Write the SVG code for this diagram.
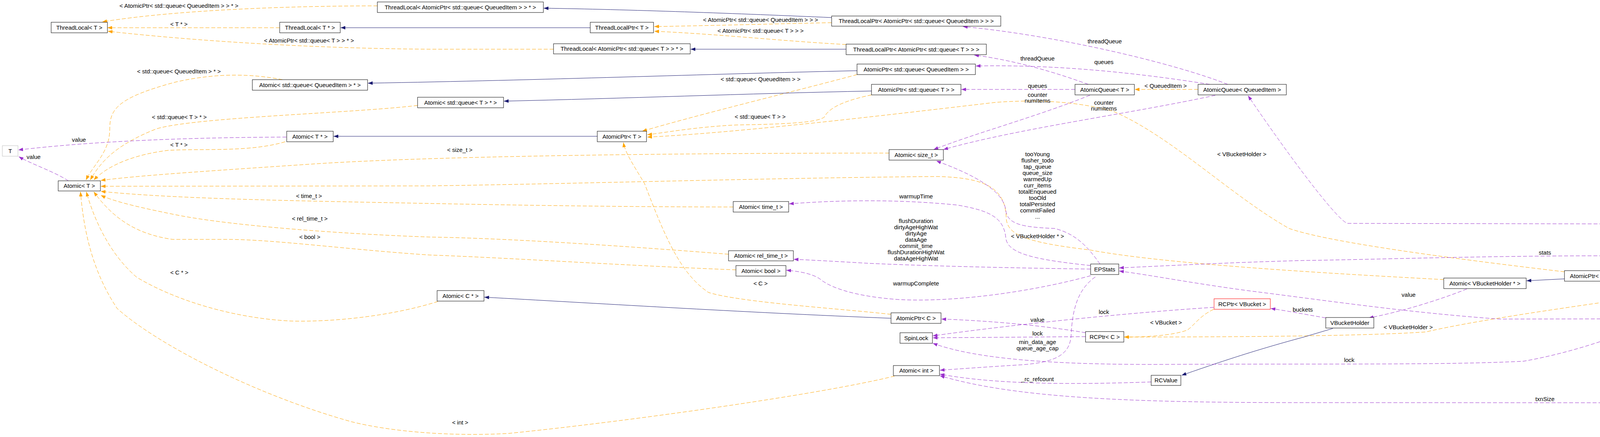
<svg xmlns="http://www.w3.org/2000/svg" width="6416" height="1119" viewBox="0 0 6416 1119">
<style>
text{font-family:"Liberation Sans",Arial,sans-serif;font-size:15px;text-anchor:middle;fill:#000}
.n rect{fill:#fff;stroke:#000;stroke-width:1}
.o{fill:none;stroke:#FFA500;stroke-width:1;stroke-dasharray:10,5;marker-end:url(#ao)}
.p{fill:none;stroke:#9A32CD;stroke-width:1;stroke-dasharray:10,5;marker-end:url(#ap)}
.b{fill:none;stroke:#191970;stroke-width:1;marker-end:url(#ab)}
</style>
<defs>
<marker id="ao" viewBox="0 0 12 9" refX="12" refY="4.5" markerWidth="12" markerHeight="9" markerUnits="userSpaceOnUse" orient="auto"><path d="M0,0L12,4.5L0,9z" fill="#FFA500"/></marker>
<marker id="ap" viewBox="0 0 12 9" refX="12" refY="4.5" markerWidth="12" markerHeight="9" markerUnits="userSpaceOnUse" orient="auto"><path d="M0,0L12,4.5L0,9z" fill="#9A32CD"/></marker>
<marker id="ab" viewBox="0 0 12 9" refX="12" refY="4.5" markerWidth="12" markerHeight="9" markerUnits="userSpaceOnUse" orient="auto"><path d="M0,0L12,4.5L0,9z" fill="#191970"/></marker>
</defs>
<rect width="6416" height="1119" fill="#fff"/>
<g id="connectors">
<path class="o" d="M966,15 C750,15 450,25 262,56"/><text x="458" y="20">&lt; AtomicPtr&lt; std::queue&lt; QueuedItem &gt; &gt; * &gt;</text>
<path class="o" d="M716,71 L275,71"/><text x="458" y="67">&lt; T * &gt;</text>
<path class="o" d="M1417,126 L1100,126 C800,124 500,105 276,80"/><text x="791" y="109">&lt; AtomicPtr&lt; std::queue&lt; T &gt; &gt; * &gt;</text>
<path class="o" d="M2129,58 C1950,62 1800,66 1675,68"/><text x="1947" y="56">&lt; AtomicPtr&lt; std::queue&lt; QueuedItem &gt; &gt; &gt;</text>
<path class="o" d="M2166,114 C2000,105 1850,88 1675,80"/><text x="1947" y="84">&lt; AtomicPtr&lt; std::queue&lt; T &gt; &gt; &gt;</text>
<path class="o" d="M723,204 C650,190 560,185 450,210 C300,250 281,280 281,330 C281,390 240,420 220,461"/><text x="458" y="188">&lt; std::queue&lt; QueuedItem &gt; * &gt;</text>
<path class="o" d="M1069,270 C900,290 500,300 400,330 C300,370 260,410 231,461"/><text x="459" y="305">&lt; std::queue&lt; T &gt; * &gt;</text>
<path class="o" d="M730,363 C640,390 520,380 430,385 C350,395 280,420 240,461"/><text x="458" y="376">&lt; T * &gt;</text>
<path class="o" d="M2276,392 C1700,392 1100,400 800,420 C500,440 350,450 258,462"/><text x="1177" y="389">&lt; size_t &gt;</text>
<path class="o" d="M3696,716 C3500,705 3000,680 2790,640 C2620,620 2580,600 2576,560 C2575,480 2520,455 2400,452 C2000,455 1500,470 1100,476 L258,477"/><text x="2656" y="610">&lt; VBucketHolder * &gt;</text>
<path class="o" d="M1877,530 C1600,530 1300,525 1100,521 C800,515 450,510 258,490"/><text x="791" y="507">&lt; time_t &gt;</text>
<path class="o" d="M1865,651 C1600,630 1300,610 1100,607 C900,600 600,580 450,550 C350,530 290,515 258,500"/><text x="793" y="565">&lt; rel_time_t &gt;</text>
<path class="o" d="M1884,691 C1600,680 1300,660 1100,653 C900,640 700,613 582,613 L442,613 C350,600 290,560 240,491"/><text x="793" y="612">&lt; bool &gt;</text>
<path class="o" d="M1121,772 C1000,810 850,825 744,822 C600,815 450,770 350,710 C280,650 240,560 221,491"/><text x="459" y="703">&lt; C * &gt;</text>
<path class="o" d="M2290,963 C2100,1010 1600,1080 1300,1110 C1150,1118 1000,1105 900,1080 C650,1010 400,880 300,790 C240,700 215,600 206,491"/><text x="1178" y="1087">&lt; int &gt;</text>
<path class="o" d="M2194,191 C2050,230 1800,290 1644,336"/><text x="1947" y="208">&lt; std::queue&lt; QueuedItem &gt; &gt;</text>
<path class="o" d="M2231,243 C2150,260 2120,280 2110,300 C2090,315 2000,318 1885,320 C1780,325 1700,340 1657,345"/><text x="1946" y="304">&lt; std::queue&lt; T &gt; &gt;</text>
<path class="o" d="M4005,696 C3700,660 3400,620 3300,585 C3150,500 3000,350 2850,285 C2750,258 2650,255 2550,262 C2350,285 1900,340 1657,351"/><text x="3179" y="400">&lt; VBucketHolder &gt;</text>
<path class="o" d="M2281,805 C2150,790 1900,775 1814,749 C1740,700 1700,600 1650,470 C1620,420 1600,390 1596,365"/><text x="1947" y="731">&lt; C &gt;</text>
<path class="o" d="M3067,229 L2905,229"/><text x="2984" y="225">&lt; QueuedItem &gt;</text>
<path class="o" d="M3107,792 C3070,810 3060,830 3040,845 C3000,860 2930,863 2878,863"/><text x="2985" y="831">&lt; VBucket &gt;</text>
<path class="o" d="M4330,742 C4100,775 3800,815 3650,850 C3500,860 3200,863 2878,863"/><text x="3605" y="843">&lt; VBucketHolder &gt;</text>
<path class="o" d="M4648,868 L4479,868"/><text x="4578" y="863">&lt; GetValue &gt;</text>

<path class="b" d="M2129,45 C1900,35 1600,24 1392,21"/>
<path class="b" d="M1511,71 L872,71"/>
<path class="b" d="M2166,126 L1768,126"/>
<path class="b" d="M2194,181 C1800,190 1400,205 942,213"/>
<path class="b" d="M2231,233 C1900,240 1600,252 1290,259"/>
<path class="b" d="M1529,349 L854,349"/>
<path class="b" d="M2281,815 C1900,800 1500,775 1240,761"/>
<path class="b" d="M4005,714 L3908,719"/>
<path class="b" d="M3412,841 L3338,863 C3200,900 3100,935 3025,961"/>
<path class="b" d="M4685,432 L4447,370"/>
<path class="b" d="M4989,694 C4900,720 4850,760 4810,800 C4780,830 4760,845 4750,854"/>
<path class="b" d="M6307,898 C6200,930 6100,981 6050,981 L5014,981 C4950,981 4880,960 4830,925 C4800,905 4780,893 4766,883"/>

<path class="p" d="M733,351 C500,352 250,360 47,384"/><text x="202" y="363">value</text>
<path class="p" d="M175,463 C140,440 80,420 48,401"/><text x="86" y="407">value</text>
<path class="p" d="M3143,216 C3000,160 2700,90 2465,68"/><text x="2828" y="111">threadQueue</text>
<path class="p" d="M2786,216 C2700,185 2600,155 2494,141"/><text x="2656" y="155">threadQueue</text>
<path class="p" d="M3097,216 C2900,185 2700,165 2498,169"/><text x="2826" y="164">queues</text>
<path class="p" d="M2752,229 L2461,229"/><text x="2656" y="225">queues</text>
<path class="p" d="M2790,244 C2650,300 2500,340 2390,383"/><text x="2656" y="248">counter</text><text x="2656" y="263">numItems</text>
<path class="p" d="M3111,244 C2900,290 2600,330 2415,383"/><text x="2826" y="268">counter</text><text x="2826" y="283">numItems</text>
<path class="p" d="M2816,676 C2790,640 2760,600 2700,585 C2620,582 2580,575 2575,540 C2570,490 2500,450 2397,412"/>
<text x="2656" y="400">tooYoung</text><text x="2656" y="416">flusher_todo</text><text x="2656" y="432">tap_queue</text><text x="2656" y="448">queue_size</text><text x="2656" y="464">warmedUp</text><text x="2656" y="480">curr_items</text><text x="2656" y="496">totalEnqueued</text><text x="2656" y="512">tooOld</text><text x="2656" y="528">totalPersisted</text><text x="2656" y="544">commitFailed</text><text x="2656" y="560">...</text>
<path class="p" d="M2792,680 C2650,665 2580,650 2575,610 C2570,560 2540,540 2450,525 C2300,510 2150,512 2020,522"/><text x="2345" y="508">warmupTime</text>
<path class="p" d="M2792,689 C2500,685 2300,678 2219,674 C2150,670 2080,666 2032,664"/>
<text x="2345" y="571">flushDuration</text><text x="2345" y="587">dirtyAgeHighWat</text><text x="2345" y="603">dirtyAge</text><text x="2345" y="619">dataAge</text><text x="2345" y="635">commit_time</text><text x="2345" y="651">flushDurationHighWat</text><text x="2345" y="667">dataAgeHighWat</text>
<path class="p" d="M2792,706 C2650,745 2450,775 2300,767 C2200,760 2130,740 2100,715 C2080,700 2040,694 2013,692"/><text x="2345" y="731">warmupComplete</text>
<path class="p" d="M2804,709 C2760,740 2745,790 2742,860 C2738,910 2700,930 2600,935 C2520,940 2450,945 2406,948"/><text x="2656" y="881">min_data_age</text><text x="2656" y="897">queue_age_cap</text>
<path class="p" d="M2779,852 C2650,830 2500,820 2410,817"/><text x="2656" y="824">value</text>
<path class="p" d="M3107,787 C2900,800 2600,830 2388,860"/><text x="2826" y="804">lock</text>
<path class="p" d="M2779,862 L2388,865"/><text x="2656" y="859">lock</text>
<path class="p" d="M4398,742 C4300,800 4100,890 3900,925 C3700,935 3400,931 3000,933 C2700,935 2500,920 2388,879"/><text x="3454" y="927">lock</text>
<path class="p" d="M2947,978 C2750,985 2550,985 2406,958"/><text x="2656" y="976">_rc_refcount</text>
<path class="p" d="M5470,646 C5440,800 5300,950 5100,1015 C4900,1035 4500,1031 3338,1031 C2900,1031 2600,1020 2406,962"/><text x="3955" y="1027">txnSize</text>
<path class="p" d="M3394,814 C3340,805 3290,795 3253,790"/><text x="3335" y="798">buckets</text>
<path class="p" d="M3755,740 C3680,770 3580,800 3504,814"/><text x="3606" y="760">value</text>
<path class="p" d="M4321,721 L4225,714"/><text x="4271" y="713">value</text>
<path class="p" d="M5378,622 C5100,600 4800,574 4457,574 L3449,572 C3420,560 3300,400 3195,245"/><text x="4271" y="569">towrite</text>
<path class="p" d="M4944,673 C4700,665 4400,658 4100,655 C3800,655 3500,665 3338,667 C3150,672 3000,680 2865,686"/><text x="3955" y="652">stats</text>
<path class="p" d="M5456,646 C5420,720 5300,790 5100,815 L3838,817 C3600,800 3400,770 3200,745 C3050,725 2950,705 2865,694"/><text x="4114" y="815">stats</text>
<path class="p" d="M4680,712 L4510,722"/><text x="4578" y="711">buckets</text>
<path class="p" d="M4695,696 C4600,640 4520,570 4490,520 C4460,470 4440,420 4423,374"/><text x="4578" y="571">mutex</text>
<path class="p" d="M6323,502 C6250,380 6150,260 6000,240 C5900,237 5000,237 4720,238 C4600,245 4500,290 4440,346"/><text x="5474" y="233">mutex</text>
<path class="p" d="M6000,571 C5950,480 5870,330 5750,300 L4720,300 C4600,303 4500,325 4447,350"/><text x="5263" y="279">tapMutex</text><text x="5263" y="295">lookupMutex</text>
<path class="p" d="M5700,475 C5650,460 5600,455 5500,445 C5200,420 4800,380 4447,363"/><text x="5046" y="395">taskMutex</text>
<path class="p" d="M6005,572 C5900,500 5750,430 5576,412 C5400,400 5250,395 5100,398 C4950,405 4850,425 4783,433"/><text x="5475" y="391">tapNotifySync</text>
<path class="p" d="M4999,462 L4783,448"/><text x="4879" y="448">mutex</text>
<path class="p" d="M5442,614 C5400,580 5320,540 5150,528 C5000,522 4880,500 4778,458"/><text x="5045" y="501">mutex</text>
<path class="p" d="M5700,484 C5500,478 5300,470 5094,465"/><text x="5475" y="471">dispatcher</text>
<path class="p" d="M5463,615 C5420,570 5370,520 5300,510 C5200,505 5150,500 5094,478"/><text x="5263" y="495">dispatcher</text>
<path class="p" d="M5378,615 C5100,585 4800,530 4600,460 C4520,430 4480,400 4445,374"/><text x="4882" y="517">vbsetMutex</text>
<path class="p" d="M5435,643 C5350,665 5250,678 5150,680"/><text x="5263" y="660">loadStorageKVPairCallback</text>
<path class="p" d="M4944,689 L4788,704"/><text x="4880" y="689">vbuckets</text>
<path class="p" d="M5449,646 C5350,690 5200,725 5000,728 C4900,729 4850,722 4788,717"/><text x="5046" y="721">vbuckets</text>
<path class="p" d="M4675,942 L4491,944"/><text x="4578" y="907">set_vb_stmt</text><text x="4578" y="923">del_vb_stmt</text><text x="4578" y="938">sel_vb_stmt</text>
<path class="p" d="M4983,933 L4793,938"/><text x="4880" y="931">strategy</text>
<path class="p" d="M5467,646 C5450,740 5400,830 5300,868 C5200,878 5120,890 5083,917"/><text x="5262" y="848">underlying</text>
<path class="p" d="M6015,602 C5850,680 5650,780 5500,840 C5350,890 5200,915 5112,926"/><text x="5625" y="776">sqliteDb</text>
<path class="p" d="M5497,614 C5560,550 5620,510 5700,495"/><text x="5626" y="505">flusher</text>
<path class="p" d="M5722,500 C5680,540 5600,590 5517,616"/><text x="5626" y="548">store</text>
<path class="p" d="M5680,598 C5640,603 5600,608 5563,616"/><text x="5626" y="597">backend</text>
<path class="p" d="M5975,602 C5850,620 5700,633 5574,633"/><text x="5737" y="624">epstore</text>
<path class="p" d="M5938,587 L5796,587"/><text x="5864" y="583">getlExtension</text>
<path class="p" d="M6251,511 C6200,507 6150,502 6101,500"/><text x="6195" y="500">message</text>
<path class="p" d="M6270,532 C6220,545 6150,560 6096,573"/><text x="6195" y="540">engine</text>
<path class="p" d="M6142,596 C6200,597 6260,580 6310,532"/><text x="6195" y="581">clientTap</text>
<path class="p" d="M6318,869 C6250,800 6150,690 6053,601"/><text x="6195" y="713">engine</text>
</g>
<g id="n1" class="n"><rect x="131" y="57" width="144" height="27"/><text x="203" y="76">ThreadLocal&lt; T &gt;</text></g>
<g id="n2" class="n"><rect x="716" y="57" width="155" height="27"/><text x="793.5" y="76">ThreadLocal&lt; T * &gt;</text></g>
<g id="n3" class="n"><rect x="966" y="5" width="425" height="27"/><text x="1178.5" y="24">ThreadLocal&lt; AtomicPtr&lt; std::queue&lt; QueuedItem &gt; &gt; * &gt;</text></g>
<g id="n4" class="n"><rect x="1511" y="57" width="162" height="27"/><text x="1592" y="76">ThreadLocalPtr&lt; T &gt;</text></g>
<g id="n5" class="n"><rect x="1417" y="112" width="350" height="26"/><text x="1592" y="130">ThreadLocal&lt; AtomicPtr&lt; std::queue&lt; T &gt; &gt; * &gt;</text></g>
<g id="n6" class="n"><rect x="2129" y="41" width="433" height="26"/><text x="2345.5" y="59">ThreadLocalPtr&lt; AtomicPtr&lt; std::queue&lt; QueuedItem &gt; &gt; &gt;</text></g>
<g id="n7" class="n"><rect x="2166" y="113" width="359" height="27"/><text x="2345.5" y="132">ThreadLocalPtr&lt; AtomicPtr&lt; std::queue&lt; T &gt; &gt; &gt;</text></g>
<g id="n8" class="n"><rect x="646" y="204" width="295" height="27"/><text x="793.5" y="223">Atomic&lt; std::queue&lt; QueuedItem &gt; * &gt;</text></g>
<g id="n9" class="n"><rect x="2194" y="164" width="303" height="27"/><text x="2345.5" y="183">AtomicPtr&lt; std::queue&lt; QueuedItem &gt; &gt;</text></g>
<g id="n10" class="n"><rect x="1069" y="249" width="220" height="27"/><text x="1179" y="268">Atomic&lt; std::queue&lt; T &gt; * &gt;</text></g>
<g id="n11" class="n"><rect x="2231" y="216" width="229" height="27"/><text x="2345.5" y="235">AtomicPtr&lt; std::queue&lt; T &gt; &gt;</text></g>
<g id="n12" class="n"><rect x="6" y="373" width="40" height="27" style="stroke:#bfbfbf"/><text x="26" y="392">T</text></g>
<g id="n13" class="n"><rect x="734" y="336" width="119" height="27"/><text x="793.5" y="355">Atomic&lt; T * &gt;</text></g>
<g id="n14" class="n"><rect x="1529" y="336" width="126" height="27"/><text x="1592" y="355">AtomicPtr&lt; T &gt;</text></g>
<g id="n15" class="n"><rect x="149" y="463" width="108" height="26"/><text x="203" y="481">Atomic&lt; T &gt;</text></g>
<g id="n16" class="n"><rect x="2276" y="383" width="139" height="27"/><text x="2345.5" y="402">Atomic&lt; size_t &gt;</text></g>
<g id="n17" class="n"><rect x="1877" y="516" width="142" height="27"/><text x="1948" y="535">Atomic&lt; time_t &gt;</text></g>
<g id="n18" class="n"><rect x="1865" y="642" width="166" height="26"/><text x="1948" y="660">Atomic&lt; rel_time_t &gt;</text></g>
<g id="n19" class="n"><rect x="1884" y="680" width="128" height="27"/><text x="1948" y="699">Atomic&lt; bool &gt;</text></g>
<g id="n20" class="n"><rect x="1119" y="744" width="120" height="27"/><text x="1179" y="763">Atomic&lt; C * &gt;</text></g>
<g id="n21" class="n"><rect x="2752" y="216" width="152" height="27"/><text x="2828" y="235">AtomicQueue&lt; T &gt;</text></g>
<g id="n22" class="n"><rect x="3067" y="216" width="226" height="27"/><text x="3180" y="235">AtomicQueue&lt; QueuedItem &gt;</text></g>
<g id="n23" class="n"><rect x="2792" y="676" width="72" height="27"/><text x="2828" y="695">EPStats</text></g>
<g id="n24" class="n"><rect x="3108" y="765" width="144" height="27" style="stroke:#ff0000"/><text x="3180" y="784">RCPtr&lt; VBucket &gt;</text></g>
<g id="n25" class="n"><rect x="2779" y="849" width="98" height="27"/><text x="2828" y="868">RCPtr&lt; C &gt;</text></g>
<g id="n26" class="n"><rect x="2281" y="801" width="128" height="27"/><text x="2345" y="820">AtomicPtr&lt; C &gt;</text></g>
<g id="n27" class="n"><rect x="2304" y="852" width="83" height="27"/><text x="2345.5" y="871">SpinLock</text></g>
<g id="n28" class="n"><rect x="2287" y="936" width="118" height="26"/><text x="2346" y="954">Atomic&lt; int &gt;</text></g>
<g id="n29" class="n"><rect x="2947" y="961" width="76" height="26"/><text x="2985" y="979">RCValue</text></g>
<g id="n30" class="n"><rect x="3696" y="712" width="211" height="27"/><text x="3801.5" y="731">Atomic&lt; VBucketHolder * &gt;</text></g>
<g id="n31" class="n"><rect x="4005" y="693" width="219" height="27"/><text x="4114.5" y="712">AtomicPtr&lt; VBucketHolder &gt;</text></g>
<g id="n32" class="n"><rect x="4321" y="715" width="188" height="27"/><text x="4415" y="734">RCPtr&lt; VBucketHolder &gt;</text></g>
<g id="n33" class="n"><rect x="3394" y="813" width="123" height="27"/><text x="3455.5" y="832">VBucketHolder</text></g>
<g id="n34" class="n"><rect x="4351" y="855" width="127" height="26"/><text x="4414.5" y="873">Callback&lt; RV &gt;</text></g>
<g id="n35" class="n"><rect x="4339" y="933" width="151" height="27"/><text x="4414.5" y="952">PreparedStatement</text></g>
<g id="n36" class="n"><rect x="4383" y="347" width="63" height="26"/><text x="4414.5" y="365">Mutex</text></g>
<g id="n37" class="n"><rect x="4685" y="431" width="97" height="26"/><text x="4733.5" y="449">SyncObject</text></g>
<g id="n38" class="n"><rect x="5000" y="451" width="93" height="26"/><text x="5046.5" y="469">Dispatcher</text></g>
<g id="n39" class="n"><rect x="4944" y="667" width="205" height="26"/><text x="5046.5" y="685">LoadStorageKVPairCallback</text></g>
<g id="n40" class="n"><rect x="4680" y="696" width="107" height="27"/><text x="4733.5" y="715">VBucketMap</text></g>
<g id="n41" class="n"><rect x="4649" y="854" width="169" height="27"/><text x="4733.5" y="873">Callback&lt; GetValue &gt;</text></g>
<g id="n42" class="n"><rect x="4675" y="926" width="117" height="27"/><text x="4733.5" y="945">SqliteStrategy</text></g>
<g id="n43" class="n"><rect x="4983" y="917" width="128" height="27"/><text x="5047" y="936">StrategicSqlite3</text></g>
<g id="n44" class="n"><rect x="5379" y="616" width="194" height="27"/><text x="5476" y="635">EventuallyPersistentStore</text></g>
<g id="n45" class="n"><rect x="5701" y="472" width="72" height="27"/><text x="5737" y="491">Flusher</text></g>
<g id="n46" class="n"><rect x="5680" y="573" width="115" height="27"/><text x="5737.5" y="592">GetlExtension</text></g>
<g id="n47" class="n"><rect x="5938" y="573" width="203" height="27"/><text x="6039.5" y="592">EventuallyPersistentEngine</text></g>
<g id="n48" class="n"><rect x="5977" y="481" width="123" height="26"/><text x="6038.5" y="499">BinaryMessage</text></g>
<g id="n49" class="n"><rect x="6251" y="504" width="161" height="27"/><text x="6331.5" y="523">TapClientConnection</text></g>
<g id="n50" class="n"><rect x="6267" y="869" width="127" height="27" style="fill:#bfbfbf"/><text x="6330.5" y="888">LookupCallback</text></g>
</svg>
